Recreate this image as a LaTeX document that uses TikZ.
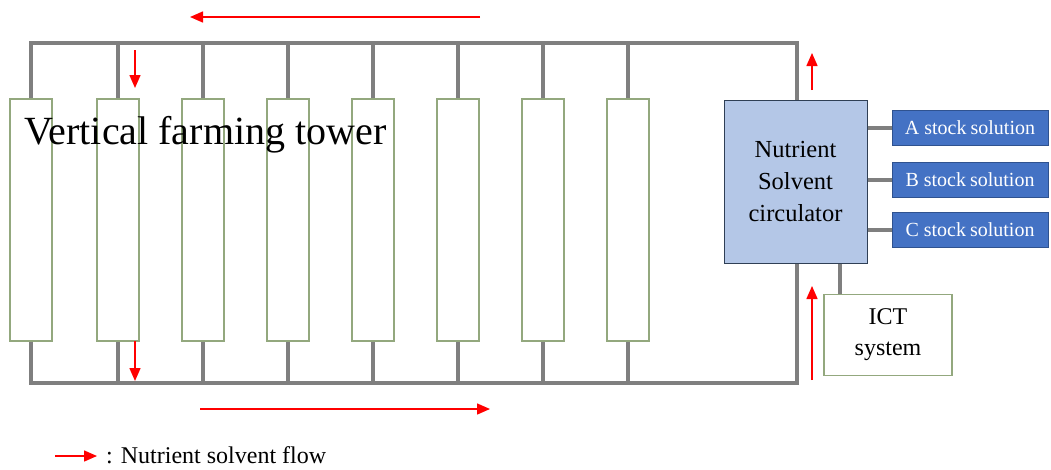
\documentclass[tikz,border=0pt]{standalone}
\usepackage{fontspec}
\setmainfont{Liberation Serif}
\usetikzlibrary{arrows.meta}
\definecolor{pipegray}{HTML}{7F7F7F}
\definecolor{towergreen}{HTML}{93A87E}
\definecolor{circfill}{HTML}{B4C7E7}
\definecolor{circdraw}{HTML}{2F3F55}
\definecolor{stockfill}{HTML}{4472C4}
\definecolor{stockdraw}{HTML}{2F528F}
\definecolor{flowred}{HTML}{FF0000}
\begin{document}
\begin{tikzpicture}[x=1pt,y=-1pt,
 pipe/.style={draw=pipegray,line width=4pt},
 tower/.style={draw=towergreen,line width=1.2pt,fill=white,minimum width=42pt,minimum height=242pt,inner sep=0pt},
 circbox/.style={draw=circdraw,line width=1pt,fill=circfill,minimum width=143pt,minimum height=163pt,inner sep=0pt,align=center,font=\fontsize{24.5}{32}\selectfont},
 stockbox/.style={draw=stockdraw,line width=1pt,fill=stockfill,text=white,minimum width=156pt,minimum height=35pt,inner sep=0pt,font=\fontsize{20}{22}\selectfont},
 ictbox/.style={draw=towergreen,line width=1.2pt,fill=white,minimum width=128pt,minimum height=81pt,inner sep=0pt,align=center,font=\fontsize{24}{31}\selectfont},
 flow/.style={draw=flowred,line width=1.5pt,-{Triangle[length=13pt,width=11pt]}},
 label/.style={inner sep=0pt}]
\useasboundingbox (0,0) rectangle (1051,469);
% towers
\foreach \i/\x in {1/31,2/118,3/203,4/288,5/373,6/458,7/543,8/628}
  \node[tower] (t\i) at (\x,220) {};
% circulator and attached boxes
\node[circbox] (circ) at (795.5,181.5) {Nutrient\\Solvent\\circulator};
\node[stockbox] (sa) at (970,127.5) {A stock\hspace{-1pt} solution};
\node[stockbox] (sb) at (970,179.5) {B stock\hspace{-1pt} solution};
\node[stockbox] (sc) at (970,230) {C stock\hspace{-1pt} solution};
\node[ictbox] (ict) at (888,335) {ICT\\system};
% pipe corners
\coordinate (tr) at (797,43);
\coordinate (br) at (797,383);
\coordinate (ictp) at (840,0);
% pipes
\draw[pipe] (t1.north) |- (tr) -- (tr |- circ.north);
\draw[pipe] (t1.south) |- (br) -- (br |- circ.south);
\foreach \i in {2,...,8} {
  \draw[pipe] (t\i.north) -- (t\i.north |- tr);
  \draw[pipe] (t\i.south) -- (t\i.south |- br);
}
\draw[pipe] (circ.east |- sa) -- (sa.west);
\draw[pipe] (circ.east |- sb) -- (sb.west);
\draw[pipe] (circ.east |- sc) -- (sc.west);
\draw[pipe] (circ.south -| ictp) -- (ict.north -| ictp);
% title
\node[label,anchor=base west,font=\fontsize{40}{42}\selectfont] (title) at (24,144) {Vertical farming tower};
% flow arrows
\coordinate (fa1) at (480,17); \coordinate (fa2) at (190,17);
\coordinate (fb1) at (135,50); \coordinate (fb2) at (135,88);
\coordinate (fc1) at (135,341); \coordinate (fc2) at (135,381);
\coordinate (fd1) at (200,409); \coordinate (fd2) at (490,409);
\coordinate (fe1) at (812,90); \coordinate (fe2) at (812,53);
\coordinate (ff1) at (812,380); \coordinate (ff2) at (812,286);
\draw[flow] (fa1) -- (fa2);
\draw[flow] (fb1) -- (fb2);
\draw[flow] (fc1) -- (fc2);
\draw[flow] (fd1) -- (fd2);
\draw[flow] (fe1) -- (fe2);
\draw[flow] (ff1) -- (ff2);
% legend
\coordinate (lg1) at (55,456); \coordinate (lg2) at (97,456);
\draw[flow] (lg1) -- (lg2);
\node[label,anchor=base west,font=\fontsize{24}{26}\selectfont] (legend) at (106,463) {: Nutrient solvent flow};
\end{tikzpicture}
\end{document}
